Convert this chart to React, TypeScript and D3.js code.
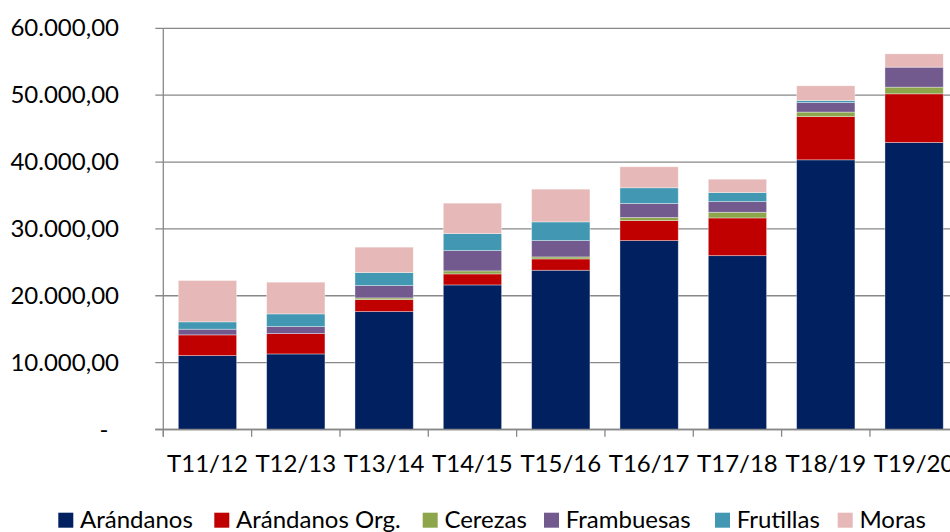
import React from "react";
import * as d3 from "d3";

const categories = ["T11/12", "T12/13", "T13/14", "T14/15", "T15/16", "T16/17", "T17/18", "T18/19", "T19/20"];
const seriesNames = ["Arándanos", "Arándanos Org.", "Cerezas", "Frambuesas", "Frutillas", "Moras"];
const arandanos = [11050, 11300, 17630, 21620, 23820, 28250, 26000, 40330, 42920];
const arandanosOrg = [3100, 3040, 1800, 1650, 1690, 3000, 5640, 6480, 7280];
const cerezas = [0, 0, 250, 450, 300, 450, 850, 660, 1000];
const frambuesas = [850, 1050, 1840, 3040, 2440, 2100, 1590, 1430, 2990];
const frutillas = [1100, 1900, 1950, 2540, 2800, 2350, 1350, 300, 0];
const moras = [6180, 4740, 3800, 4550, 4890, 3140, 2000, 2200, 1990];
const yTicks = [0, 10000, 20000, 30000, 40000, 50000, 60000];
const colors = ["#002060", "#C00000", "#8DA64B", "#725A8F", "#4298B2", "#E6B8B7"];

const W = 950;
const H = 532;
const FONT = "Lato, 'Open Sans', sans-serif";
const FS = 24;
const legendX = [58.3, 214.3, 422.7, 544, 715, 837.7];

function fmt(v: number): string {
  if (v === 0) return "-";
  const s = d3.format(",.2f")(v);
  return s.replace(/,/g, "#").replace(/\./g, ",").replace(/#/g, ".");
}

export default function App() {
  const seriesValues = [arandanos, arandanosOrg, cerezas, frambuesas, frutillas, moras];
  const rows = categories.map((c, i) => {
    const r: any = { cat: c };
    seriesNames.forEach((s, k) => (r[s] = seriesValues[k][i]));
    return r;
  });
  const stacked = d3.stack().keys(seriesNames)(rows);

  const x0 = 163.3;
  const step = 88.33;
  const x = d3
    .scaleBand<string>()
    .domain(categories)
    .range([x0, x0 + step * categories.length])
    .paddingInner(0.34)
    .paddingOuter(0.17);
  const y = d3.scaleLinear().domain([0, 60000]).range([429.5, 28.3]);

  const bandEdges = d3.range(categories.length + 1).map((i) => x0 + i * step);

  return (
    <svg width={W} height={H} style={{ position: "absolute", left: 0, top: 0, background: "#fff" }} fontFamily={FONT}>
      <rect x={0} y={0} width={W} height={H} fill="#fff" />
      {yTicks.map((t) => (
        <g key={t}>
          <line x1={155.3} x2={x0 + step * categories.length} y1={y(t)} y2={y(t)} stroke="#888888" strokeWidth={1.3} />
          <text x={t === 0 ? 108.5 : 119} y={y(t) + 8} textAnchor="end" fontSize={FS} fill="#000">
            {fmt(t)}
          </text>
        </g>
      ))}
      {stacked.map((s, k) => (
        <g key={s.key} fill={colors[k]}>
          {s.map((d, i) =>
            d[1] - d[0] > 0 ? (
              <rect
                key={i}
                x={x(categories[i])}
                width={x.bandwidth()}
                y={y(d[1])}
                height={y(d[0]) - y(d[1])}
                stroke="#ffffff"
                strokeOpacity={0.45}
                strokeWidth={0.8}
              />
            ) : null
          )}
        </g>
      ))}
      <line x1={x0} x2={x0} y1={y(60000)} y2={436.8} stroke="#888888" strokeWidth={1.3} />
      <line x1={155.3} x2={x0 + step * categories.length} y1={y(0)} y2={y(0)} stroke="#888888" strokeWidth={1.3} />
      {bandEdges.map((bx, i) => (
        <line key={i} x1={bx} x2={bx} y1={y(0)} y2={436.8} stroke="#888888" strokeWidth={1.3} />
      ))}
      {categories.map((c) => (
        <text key={c} x={(x(c) as number) + x.bandwidth() / 2} y={471.7} textAnchor="middle" fontSize={FS} fill="#000">
          {c}
        </text>
      ))}
      {seriesNames.map((n, i) => (
        <g key={n}>
          <rect x={legendX[i]} y={512.7} width={15} height={15} fill={colors[i]} />
          <text x={legendX[i] + 15 + 6.7} y={527.7} fontSize={FS} fill="#000">
            {n}
          </text>
        </g>
      ))}
    </svg>
  );
}
